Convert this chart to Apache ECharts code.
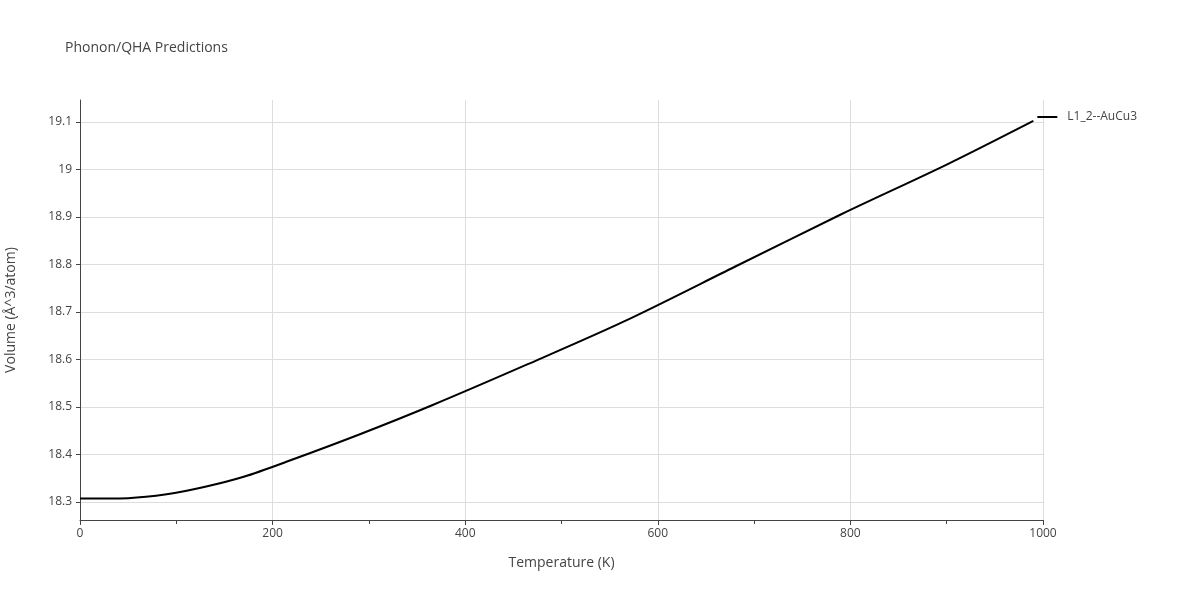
<!DOCTYPE html>
<html><head><meta charset="utf-8">
<script src="https://cdn.jsdelivr.net/npm/echarts@6/dist/echarts.min.js"></script>
<style>html,body{margin:0;padding:0;background:#fff}#c{width:1200px;height:600px}</style>
</head><body><div id="c"></div>
<script>
const temps = [0, 50, 90, 130, 170, 215, 290, 365, 465, 565, 680, 790, 900, 990];
const volumes = [18.307, 18.308, 18.316, 18.332, 18.353, 18.385, 18.442, 18.503, 18.590, 18.680, 18.795, 18.905, 19.010, 19.102];
const yTicks = [18.3, 18.4, 18.5, 18.6, 18.7, 18.8, 18.9, 19, 19.1];
const seriesName = 'L1_2--AuCu3';
const chart = echarts.init(document.getElementById('c'));
const font = '"Open Sans", sans-serif';
chart.setOption({
  animation: false,
  title: {text: 'Phonon/QHA Predictions', left: 60, top: 36, textStyle: {fontFamily: font, fontSize: 14, fontWeight: 'normal', color: '#444'}},
  legend: {right: 58, top: 106, icon: 'path://M0,0H40V4H0Z', itemWidth: 30, itemHeight: 2, textStyle: {fontFamily: font, fontSize: 12, color: '#444'}, data: [seriesName]},
  grid: {left: 80, right: 157, top: 100, bottom: 80, containLabel: false, outerBoundsMode: 'none'},
  xAxis: {type: 'value', min: 0, max: 1000, interval: 200, name: 'Temperature (K)', nameLocation: 'middle', nameGap: 36,
    nameTextStyle: {fontFamily: font, fontSize: 14, color: '#444'},
    axisLine: {show: true, onZero: false, lineStyle: {color: '#444'}}, axisTick: {show: true, length: 5, lineStyle: {color: '#444'}},
    minorTick: {show: true, splitNumber: 2, length: 4, lineStyle: {color: '#444'}},
    axisLabel: {fontFamily: font, fontSize: 12, color: '#444', formatter: v => String(v)}, splitLine: {lineStyle: {color: '#ddd'}}},
  yAxis: {type: 'value', min: 18.262, max: 19.146, name: 'Volume (Å^3/atom)', nameLocation: 'middle', nameGap: 62,
    nameTextStyle: {fontFamily: font, fontSize: 14, color: '#444'},
    axisLine: {show: true, lineStyle: {color: '#444'}},
    axisTick: {show: true, length: 4, customValues: yTicks, lineStyle: {color: '#444'}},
    axisLabel: {fontFamily: font, fontSize: 12, color: '#444', customValues: yTicks, formatter: v => String(v)},
    splitLine: {show: true, lineStyle: {color: '#ddd'}}},
  series: [{name: seriesName, type: 'line', data: temps.map((t,i)=>[t, volumes[i]]), showSymbol: false, smooth: 0.3,
    lineStyle: {color: '#000', width: 2}, itemStyle: {color: '#000'}}]
});
</script></body></html>
